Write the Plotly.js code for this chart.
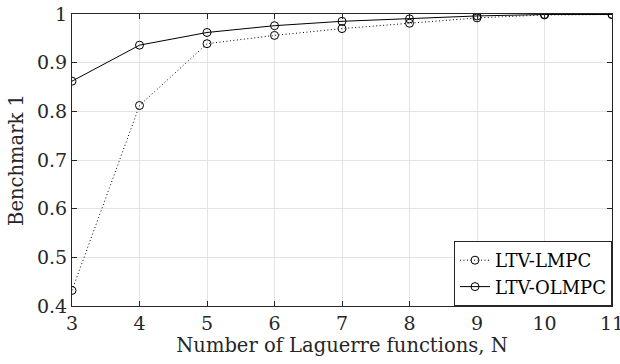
<!DOCTYPE html>
<html>
<head>
<meta charset="utf-8">
<script src="https://cdn.plot.ly/plotly-3.0.1.min.js"></script>
<style>
  html, body { margin: 0; padding: 0; background: #fff; }
  #chart { width: 620px; height: 364px; }
</style>
</head>
<body>
<div id="chart"></div>
<script>
// Number of Laguerre functions
const nLaguerre = [3, 4, 5, 6, 7, 8, 9, 10, 11];
// Benchmark 1 for each controller
const ltvLmpc  = [0.432, 0.812, 0.939, 0.956, 0.970, 0.981, 0.992, 0.998, 0.999];
const ltvOlmpc = [0.862, 0.936, 0.962, 0.976, 0.985, 0.990, 0.996, 0.999, 0.999];
const yTickVals = [0.4, 0.5, 0.6, 0.7, 0.8, 0.9, 1];
const yTickText = ['0.4', '0.5', '0.6', '0.7', '0.8', '0.9', '1'];

const serif = 'DejaVu Serif';
const ink = '#262626';

const traces = [
  {
    x: nLaguerre, y: ltvLmpc, name: 'LTV-LMPC',
    mode: 'lines+markers',
    line: { color: '#000', width: 1, dash: '1px,2.5px' },
    marker: { symbol: 'circle-open', size: 8, color: '#000', line: { width: 1 } }
  },
  {
    x: nLaguerre, y: ltvOlmpc, name: 'LTV-OLMPC',
    mode: 'lines+markers',
    line: { color: '#000', width: 1 },
    marker: { symbol: 'circle-open', size: 8, color: '#000', line: { width: 1 } }
  }
];

const axisCommon = {
  showline: true, linecolor: ink, linewidth: 1, mirror: 'ticks',
  ticks: 'inside', ticklen: 5, tickcolor: ink, tickwidth: 1,
  showgrid: true, gridcolor: '#e3e3e3', gridwidth: 1,
  zeroline: false, ticklabeloverflow: 'allow',
  tickfont: { family: serif, size: 19, color: ink }
};

const layout = {
  width: 620, height: 364,
  margin: { l: 72, r: 8, t: 14, b: 58 },
  paper_bgcolor: '#fff', plot_bgcolor: '#fff',
  showlegend: true,
  xaxis: Object.assign({}, axisCommon, {
    range: [3, 11], tickvals: nLaguerre,
    title: { text: 'Number of Laguerre functions, N', font: { family: serif, size: 19.5, color: ink }, standoff: 5 }
  }),
  yaxis: Object.assign({}, axisCommon, {
    range: [0.4, 1], tickvals: yTickVals, ticktext: yTickText,
    title: { text: 'Benchmark 1', font: { family: serif, size: 19.5, color: ink }, standoff: 8 }
  }),
  legend: {
    x: 1, y: 0, xanchor: 'right', yanchor: 'bottom',
    bgcolor: '#fff', bordercolor: ink, borderwidth: 1,
    font: { family: serif, size: 18, color: '#000' },
    itemwidth: 30, tracegroupgap: 0
  }
};

Plotly.newPlot('chart', traces, layout, { displayModeBar: false, staticPlot: true });
</script>
</body>
</html>
